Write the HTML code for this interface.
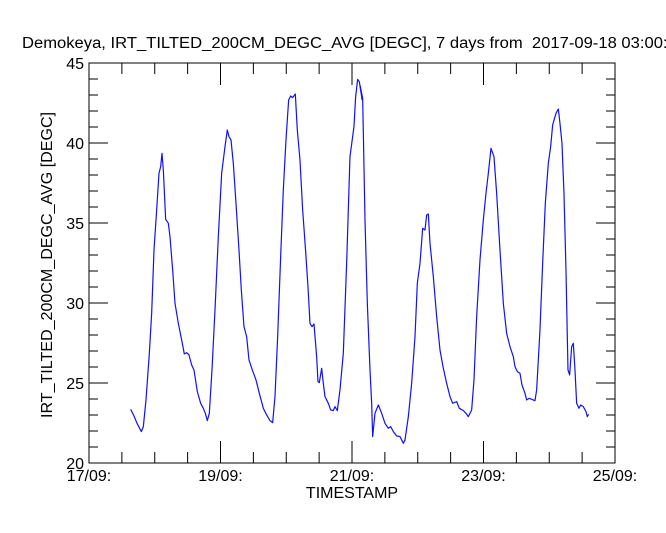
<!DOCTYPE html>
<html><head><meta charset="utf-8"><style>
html,body{margin:0;padding:0;background:#fff;width:666px;height:533px;overflow:hidden}
text{font-family:"Liberation Sans",sans-serif;fill:#000}
</style></head><body>
<svg width="666" height="533" viewBox="0 0 666 533" xmlns="http://www.w3.org/2000/svg">
<text x="22" y="48" font-size="15.5" textLength="664" lengthAdjust="spacingAndGlyphs" xml:space="preserve">Demokeya, IRT_TILTED_200CM_DEGC_AVG [DEGC], 7 days from  2017-09-18 03:00:00</text>
<rect x="89" y="63" width="526" height="400" fill="none" stroke="#000" stroke-width="1"/>
<g id="ticks" stroke="#000" stroke-width="1"></g>
<g font-size="16" text-anchor="end">
<text x="84" y="469">20</text><text x="84" y="389">25</text><text x="84" y="309">30</text>
<text x="84" y="229">35</text><text x="84" y="149">40</text><text x="84" y="69">45</text>
</g>
<g font-size="16" text-anchor="middle">
<text x="89" y="481">17/09:</text><text x="220.5" y="481">19/09:</text><text x="352" y="481">21/09:</text>
<text x="483.5" y="481">23/09:</text><text x="615" y="481">25/09:</text>
<text x="352" y="498">TIMESTAMP</text>
</g>
<text font-size="16" text-anchor="middle" textLength="306" lengthAdjust="spacingAndGlyphs" transform="translate(52,265) rotate(-90)">IRT_TILTED_200CM_DEGC_AVG [DEGC]</text>
<g fill="none" stroke="#1010ff" stroke-width="1.2" stroke-linejoin="round">
<polyline vector-effect="non-scaling-stroke" transform="translate(120,70) scale(0.3333)" points="32,1018 42,1038 52,1062 64,1085 70,1070 78,990 88,850 95,730 102,540 110,420 117,310 122,290 126,250 130,300 137,448 145,460 150,500 158,600 165,700 175,760 185,810 193,852 200,848 207,855 215,885 222,900 232,965 242,1000 250,1015 256,1030 262,1052 268,1030 276,900 285,720 295,500 305,310 315,230 322,180 327,200 333,210 340,280 348,400 357,540 364,660 372,770 380,800 387,870 397,900 408,930 418,970 430,1015 440,1035 450,1052 458,1058 465,980 473,800 482,560 490,360 498,210 506,90 512,78 518,83 526,72 532,180 540,270 548,420 556,530 564,650 570,760 576,770 582,762 590,860 594,935 598,938 605,895 610,940 615,980 625,1000 632,1020 640,1022 645,1010 652,1022 660,960 670,850 680,580 690,260 698,200 702,170 707,80 713,28 718,35 725,80 726,90"/>
<polyline vector-effect="non-scaling-stroke" transform="translate(360,70) scale(0.3333)" points="0,45 8,85 15,450 22,700 30,900 35,1000 38,1100 45,1030 55,1005 65,1030 75,1060 85,1075 92,1070 100,1085 110,1098 120,1100 130,1120 135,1110 145,1040 155,940 165,800 172,640 180,580 188,475 195,480 200,435 205,432 210,520 220,620 230,740 240,840 250,895 260,940 270,980 278,1000 290,995 298,1015 310,1022 318,1030 325,1040 335,1020 342,930 350,740 360,570 370,450 378,370 385,310 393,235 402,260 410,370 420,540 430,700 440,790 450,830 460,860 465,890 472,905 480,910 486,945 495,970 500,990 508,985 515,988 525,992 530,960 540,780 548,580 556,400 565,280 572,230 578,165 588,130 595,117 600,160 606,220 612,370 618,600 624,900 629,915 635,830 640,820 645,900 650,1000 657,1015 662,1005 670,1010 678,1025 682,1040 686,1033"/>
</g>
</svg>
<script>
var g=document.getElementById('ticks'),s='';
for(var i=0;i<=16;i++){var x=89+i*526/16,L=(i%4==0)?22:11;
s+='<line x1="'+x+'" y1="463" x2="'+x+'" y2="'+(463-L)+'"/><line x1="'+x+'" y1="63" x2="'+x+'" y2="'+(63+L)+'"/>';}
for(var v=0;v<=25;v++){var y=463-v*16,L=(v%5==0)?19:9;
s+='<line x1="89" y1="'+y+'" x2="'+(89+L)+'" y2="'+y+'"/><line x1="615" y1="'+y+'" x2="'+(615-L)+'" y2="'+y+'"/>';}
g.innerHTML=s;
</script>
</body></html>
